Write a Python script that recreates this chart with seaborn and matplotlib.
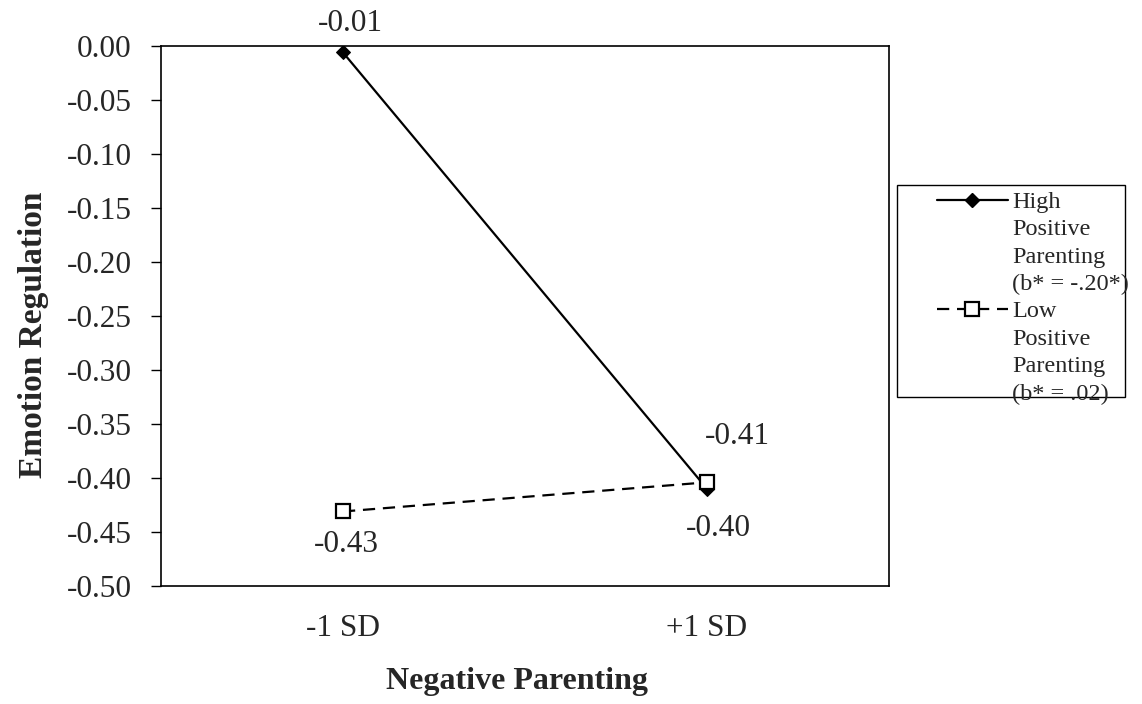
import matplotlib
matplotlib.use("Agg")
import matplotlib.pyplot as plt
from matplotlib.lines import Line2D
from matplotlib.patches import Rectangle
import seaborn as sns
import pandas as pd

# ---- data ----
categories = ["-1 SD", "+1 SD"]
high_values = [-0.006, -0.410]
low_values = [-0.431, -0.404]
high_labels = ["-0.01", "-0.41"]
low_labels = ["-0.43", "-0.40"]
series_names = ["High Positive Parenting", "Low Positive Parenting"]
legend_high = ["High", "Positive", "Parenting", "(b* = -.20*)"]
legend_low = ["Low", "Positive", "Parenting", "(b* = .02)"]
y_ticks = [0.00, -0.05, -0.10, -0.15, -0.20, -0.25, -0.30, -0.35, -0.40, -0.45, -0.50]

df = pd.DataFrame({
    "x": categories * 2,
    "y": high_values + low_values,
    "group": [series_names[0]] * 2 + [series_names[1]] * 2,
})

sns.set_theme(style="white")
plt.rcParams["font.family"] = ["Liberation Serif", "DejaVu Serif"]

W, H = 1142, 704
FS = 22.5
fig = plt.figure(figsize=(W / 100, H / 100), dpi=100)
ax = fig.add_axes([161 / W, 1 - 586 / H, (889 - 161) / W, (586 - 46) / H])

sns.lineplot(
    data=df, x="x", y="y", hue="group", style="group",
    palette={series_names[0]: "black", series_names[1]: "black"},
    markers={series_names[0]: "D", series_names[1]: "s"},
    dashes={series_names[0]: "", series_names[1]: (5.5, 3.5)},
    linewidth=1.6, markersize=8, sort=False, ax=ax, legend=False,
)
for ln in ax.lines:
    if ln.get_marker() == "s":
        ln.set_markerfacecolor("white")
        ln.set_markeredgecolor("black")
        ln.set_markeredgewidth(1.6)
        ln.set_markersize(9.5)
    elif ln.get_marker() == "D":
        ln.set_markerfacecolor("black")
        ln.set_markeredgecolor("black")
        ln.set_markersize(7.5)

ax.set_xlim(-0.5, 1.5)
ax.set_ylim(-0.5, 0.0)
ax.set_yticks(y_ticks)
ax.set_yticklabels([f"{t:.2f}" for t in y_ticks], fontsize=FS)
ax.set_xticks(range(len(categories)))
ax.set_xticklabels(categories, fontsize=FS)
ax.tick_params(axis="y", direction="out", length=7, width=1, color="black", pad=14, left=True)
ax.tick_params(axis="x", length=0, pad=20)

for sp in ax.spines.values():
    sp.set_visible(True)
    sp.set_color("black")
    sp.set_linewidth(1.2)

ax.set_xlabel("Negative Parenting", fontsize=23, fontweight="bold")
ax.xaxis.label.set_va("center")
ax.xaxis.set_label_coords((517 - 161) / 728, (586 - 682) / 540)
ax.set_ylabel("Emotion Regulation", fontsize=24, fontweight="bold")
ax.yaxis.label.set_va("center")
ax.yaxis.set_label_coords((33 - 161) / 728, (586 - 335) / 540)

# data labels (offsets in pixels)
high_offsets = [(7, 29), (30, 52)]
low_offsets = [(3, -33), (11, -46)]
for i, cat in enumerate(categories):
    ax.annotate(high_labels[i], (i, high_values[i]), xytext=high_offsets[i],
                textcoords="offset pixels", ha="center", va="center", fontsize=FS)
    ax.annotate(low_labels[i], (i, low_values[i]), xytext=low_offsets[i],
                textcoords="offset pixels", ha="center", va="center", fontsize=FS)

# legend box
fig.patches.append(Rectangle((897 / W, 1 - 397 / H), (1125 - 897) / W, (397 - 185) / H,
                             transform=fig.transFigure, facecolor="white",
                             edgecolor="black", linewidth=1.0, zorder=0))

blank = Line2D([], [], linestyle="none", marker=None)
h_high = Line2D([], [], color="black", lw=1.6, marker="D", markersize=7.5,
                markerfacecolor="black")
h_low = Line2D([], [], color="black", lw=1.6, marker="s", markersize=9.5,
               markerfacecolor="white", markeredgewidth=1.6, dashes=(5.5, 3.5))
handles = [h_high, blank, blank, blank, h_low, blank, blank, blank]
labels = legend_high + legend_low
leg = fig.legend(handles, labels, loc="upper left",
                 bbox_to_anchor=(937 / W, 1 - 191 / H), bbox_transform=fig.transFigure,
                 fontsize=17.5, frameon=False,
                 handlelength=2.92, handletextpad=0.16, labelspacing=0.22,
                 borderpad=0, borderaxespad=0)

fig.savefig("out.png", dpi=100, facecolor="white")
